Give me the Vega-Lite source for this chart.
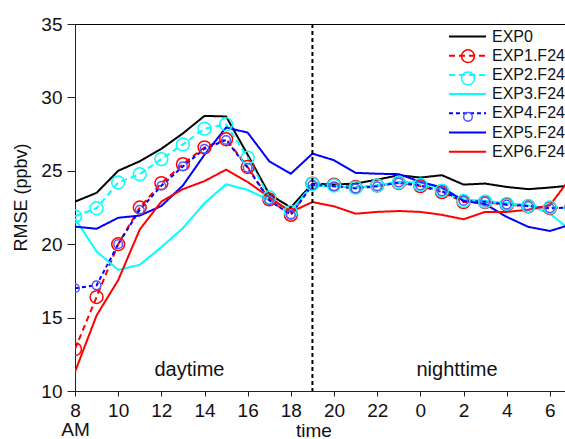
{
  "$schema": "https://vega.github.io/schema/vega-lite/v6.json",
  "autosize": {"type": "none"},
  "padding": {"left": 75, "top": 24, "right": 0, "bottom": 48},
  "width": 490,
  "height": 367,
  "background": "white",
  "config": {
    "font": "Liberation Sans",
    "view": {"stroke": "black", "strokeWidth": 1},
    "axis": {"grid": false, "domainColor": "#222", "tickColor": "#222", "labelColor": "#111", "titleColor": "#111", "titleFontWeight": "normal", "labelFont": "Liberation Sans", "titleFont": "Liberation Sans"}
  },
  "datasets": {
    "rmse": [
      {"s":"EXP0","h":8,"v":22.9},{"s":"EXP0","h":9,"v":23.5},{"s":"EXP0","h":10,"v":25.0},{"s":"EXP0","h":11,"v":25.65},{"s":"EXP0","h":12,"v":26.5},{"s":"EXP0","h":13,"v":27.55},{"s":"EXP0","h":14,"v":28.74},{"s":"EXP0","h":15,"v":28.7},{"s":"EXP0","h":16,"v":26.1},{"s":"EXP0","h":17,"v":23.4},{"s":"EXP0","h":18,"v":22.5},{"s":"EXP0","h":19,"v":24.13},{"s":"EXP0","h":20,"v":24.06},{"s":"EXP0","h":21,"v":24.13},{"s":"EXP0","h":22,"v":24.4},{"s":"EXP0","h":23,"v":24.7},{"s":"EXP0","h":24,"v":24.54},{"s":"EXP0","h":25,"v":24.7},{"s":"EXP0","h":26,"v":24.06},{"s":"EXP0","h":27,"v":24.13},{"s":"EXP0","h":28,"v":23.9},{"s":"EXP0","h":29,"v":23.75},{"s":"EXP0","h":30,"v":23.86},{"s":"EXP0","h":31,"v":24.0},
      {"s":"EXP1.F24","h":8,"v":12.85},{"s":"EXP1.F24","h":9,"v":16.4},{"s":"EXP1.F24","h":10,"v":20.0},{"s":"EXP1.F24","h":11,"v":22.5},{"s":"EXP1.F24","h":12,"v":24.16},{"s":"EXP1.F24","h":13,"v":25.45},{"s":"EXP1.F24","h":14,"v":26.6},{"s":"EXP1.F24","h":15,"v":27.15},{"s":"EXP1.F24","h":16,"v":25.26},{"s":"EXP1.F24","h":17,"v":23.05},{"s":"EXP1.F24","h":18,"v":22.0},{"s":"EXP1.F24","h":19,"v":24.13},{"s":"EXP1.F24","h":20,"v":24.06},{"s":"EXP1.F24","h":21,"v":23.9},{"s":"EXP1.F24","h":22,"v":24.0},{"s":"EXP1.F24","h":23,"v":24.17},{"s":"EXP1.F24","h":24,"v":23.96},{"s":"EXP1.F24","h":25,"v":23.55},{"s":"EXP1.F24","h":26,"v":22.87},{"s":"EXP1.F24","h":27,"v":22.87},{"s":"EXP1.F24","h":28,"v":22.69},{"s":"EXP1.F24","h":29,"v":22.58},{"s":"EXP1.F24","h":30,"v":22.46},{"s":"EXP1.F24","h":31,"v":22.5},
      {"s":"EXP2.F24","h":8,"v":21.9},{"s":"EXP2.F24","h":9,"v":22.45},{"s":"EXP2.F24","h":10,"v":24.2},{"s":"EXP2.F24","h":11,"v":24.77},{"s":"EXP2.F24","h":12,"v":25.8},{"s":"EXP2.F24","h":13,"v":26.8},{"s":"EXP2.F24","h":14,"v":27.87},{"s":"EXP2.F24","h":15,"v":28.17},{"s":"EXP2.F24","h":16,"v":25.9},{"s":"EXP2.F24","h":17,"v":23.2},{"s":"EXP2.F24","h":18,"v":22.2},{"s":"EXP2.F24","h":19,"v":24.1},{"s":"EXP2.F24","h":20,"v":24.0},{"s":"EXP2.F24","h":21,"v":23.85},{"s":"EXP2.F24","h":22,"v":24.0},{"s":"EXP2.F24","h":23,"v":24.2},{"s":"EXP2.F24","h":24,"v":24.05},{"s":"EXP2.F24","h":25,"v":23.65},{"s":"EXP2.F24","h":26,"v":22.95},{"s":"EXP2.F24","h":27,"v":22.9},{"s":"EXP2.F24","h":28,"v":22.75},{"s":"EXP2.F24","h":29,"v":22.6},{"s":"EXP2.F24","h":30,"v":22.5},{"s":"EXP2.F24","h":31,"v":22.45},
      {"s":"EXP3.F24","h":8,"v":21.74},{"s":"EXP3.F24","h":9,"v":19.5},{"s":"EXP3.F24","h":10,"v":18.25},{"s":"EXP3.F24","h":11,"v":18.6},{"s":"EXP3.F24","h":12,"v":19.8},{"s":"EXP3.F24","h":13,"v":21.1},{"s":"EXP3.F24","h":14,"v":22.8},{"s":"EXP3.F24","h":15,"v":24.08},{"s":"EXP3.F24","h":16,"v":23.7},{"s":"EXP3.F24","h":17,"v":23.0},{"s":"EXP3.F24","h":18,"v":22.3},{"s":"EXP3.F24","h":19,"v":24.0},{"s":"EXP3.F24","h":20,"v":23.95},{"s":"EXP3.F24","h":21,"v":23.85},{"s":"EXP3.F24","h":22,"v":24.0},{"s":"EXP3.F24","h":23,"v":24.25},{"s":"EXP3.F24","h":24,"v":24.2},{"s":"EXP3.F24","h":25,"v":23.8},{"s":"EXP3.F24","h":26,"v":23.05},{"s":"EXP3.F24","h":27,"v":22.95},{"s":"EXP3.F24","h":28,"v":22.8},{"s":"EXP3.F24","h":29,"v":22.65},{"s":"EXP3.F24","h":30,"v":22.08},{"s":"EXP3.F24","h":31,"v":20.9},
      {"s":"EXP4.F24","h":8,"v":17.0},{"s":"EXP4.F24","h":9,"v":17.2},{"s":"EXP4.F24","h":10,"v":20.0},{"s":"EXP4.F24","h":11,"v":22.34},{"s":"EXP4.F24","h":12,"v":23.98},{"s":"EXP4.F24","h":13,"v":25.3},{"s":"EXP4.F24","h":14,"v":26.5},{"s":"EXP4.F24","h":15,"v":27.1},{"s":"EXP4.F24","h":16,"v":25.2},{"s":"EXP4.F24","h":17,"v":23.0},{"s":"EXP4.F24","h":18,"v":22.0},{"s":"EXP4.F24","h":19,"v":24.05},{"s":"EXP4.F24","h":20,"v":23.95},{"s":"EXP4.F24","h":21,"v":23.8},{"s":"EXP4.F24","h":22,"v":23.95},{"s":"EXP4.F24","h":23,"v":24.2},{"s":"EXP4.F24","h":24,"v":24.0},{"s":"EXP4.F24","h":25,"v":23.6},{"s":"EXP4.F24","h":26,"v":22.95},{"s":"EXP4.F24","h":27,"v":22.9},{"s":"EXP4.F24","h":28,"v":22.7},{"s":"EXP4.F24","h":29,"v":22.6},{"s":"EXP4.F24","h":30,"v":22.45},{"s":"EXP4.F24","h":31,"v":22.5},
      {"s":"EXP5.F24","h":8,"v":21.2},{"s":"EXP5.F24","h":9,"v":21.05},{"s":"EXP5.F24","h":10,"v":21.8},{"s":"EXP5.F24","h":11,"v":21.95},{"s":"EXP5.F24","h":12,"v":22.6},{"s":"EXP5.F24","h":13,"v":24.0},{"s":"EXP5.F24","h":14,"v":26.1},{"s":"EXP5.F24","h":15,"v":27.95},{"s":"EXP5.F24","h":16,"v":27.6},{"s":"EXP5.F24","h":17,"v":25.65},{"s":"EXP5.F24","h":18,"v":24.8},{"s":"EXP5.F24","h":19,"v":26.17},{"s":"EXP5.F24","h":20,"v":25.72},{"s":"EXP5.F24","h":21,"v":24.86},{"s":"EXP5.F24","h":22,"v":24.8},{"s":"EXP5.F24","h":23,"v":24.77},{"s":"EXP5.F24","h":24,"v":24.25},{"s":"EXP5.F24","h":25,"v":23.86},{"s":"EXP5.F24","h":26,"v":22.95},{"s":"EXP5.F24","h":27,"v":22.73},{"s":"EXP5.F24","h":28,"v":21.86},{"s":"EXP5.F24","h":29,"v":21.18},{"s":"EXP5.F24","h":30,"v":20.9},{"s":"EXP5.F24","h":31,"v":21.35},
      {"s":"EXP6.F24","h":8,"v":11.3},{"s":"EXP6.F24","h":9,"v":15.15},{"s":"EXP6.F24","h":10,"v":17.55},{"s":"EXP6.F24","h":11,"v":21.0},{"s":"EXP6.F24","h":12,"v":22.9},{"s":"EXP6.F24","h":13,"v":23.75},{"s":"EXP6.F24","h":14,"v":24.3},{"s":"EXP6.F24","h":15,"v":25.08},{"s":"EXP6.F24","h":16,"v":24.24},{"s":"EXP6.F24","h":17,"v":23.2},{"s":"EXP6.F24","h":18,"v":22.2},{"s":"EXP6.F24","h":19,"v":22.87},{"s":"EXP6.F24","h":20,"v":22.58},{"s":"EXP6.F24","h":21,"v":22.08},{"s":"EXP6.F24","h":22,"v":22.2},{"s":"EXP6.F24","h":23,"v":22.26},{"s":"EXP6.F24","h":24,"v":22.2},{"s":"EXP6.F24","h":25,"v":22.0},{"s":"EXP6.F24","h":26,"v":21.7},{"s":"EXP6.F24","h":27,"v":22.2},{"s":"EXP6.F24","h":28,"v":22.2},{"s":"EXP6.F24","h":29,"v":22.35},{"s":"EXP6.F24","h":30,"v":22.65},{"s":"EXP6.F24","h":31,"v":24.6}
    ]
  },
  "layer": [
    {
      "data": {"name": "rmse"},
      "mark": {"type": "line", "strokeWidth": 2, "clip": true},
      "encoding": {
        "x": {"field": "h", "type": "quantitative", "scale": {"domain": [8, 30.7], "nice": false, "zero": false},
          "axis": {"title": "time", "values": [8,9,10,11,12,13,14,15,16,17,18,19,20,21,22,23,24,25,26,27,28,29,30],
            "labelExpr": "datum.value == 8 ? ['8','AM'] : (datum.value % 2 == 0 ? '' + (datum.value % 24) : '')",
            "labelOverlap": false, "labelFlush": false, "labelFontSize": 19, "labelLineHeight": 19, "labelPadding": 5,
            "tickSize": {"condition": {"test": "datum.value % 2 == 1", "value": 3}, "value": 5},
            "titleFontSize": 19, "titleX": 238.5, "titleY": 45, "titleBaseline": "alphabetic", "titleAlign": "center"}},
        "y": {"field": "v", "type": "quantitative", "scale": {"domain": [10, 35], "nice": false, "zero": false},
          "axis": {"title": "RMSE (ppbv)", "values": [10,12.5,15,17.5,20,22.5,25,27.5,30,32.5,35],
            "labelExpr": "datum.value % 5 == 0 ? datum.label : ''",
            "labelFontSize": 19, "labelPadding": 5,
            "tickSize": {"condition": {"test": "datum.value % 5 != 0", "value": 4}, "value": 8},
            "titleFontSize": 18, "titleX": -45, "titleY": 173}},
        "color": {"field": "s", "type": "nominal",
          "scale": {"domain": ["EXP0","EXP1.F24","EXP2.F24","EXP3.F24","EXP4.F24","EXP5.F24","EXP6.F24"],
            "range": ["#000000","#FF0000","#00FFFF","#00FFFF","#0000FF","#0000FF","#FF0000"]},
          "legend": {"title": null, "orient": "none", "legendX": 384, "legendY": 4, "symbolType": "M-2.5,0H2.5", "symbolSize": 220, "symbolStrokeWidth": 2, "labelFontSize": 16, "labelColor": "#111", "rowPadding": 2.2, "padding": 0, "labelOffset": 16}},
        "strokeDash": {"field": "s", "type": "nominal",
          "scale": {"domain": ["EXP0","EXP1.F24","EXP2.F24","EXP3.F24","EXP4.F24","EXP5.F24","EXP6.F24"],
            "range": [[1,0],[6,4],[6,4],[1,0],[4,3],[1,0],[1,0]]},
          "legend": {"title": null, "orient": "none", "legendX": 384, "legendY": 4, "symbolType": "M-2.5,0H2.5", "symbolSize": 220, "symbolStrokeWidth": 2, "labelFontSize": 16, "labelColor": "#111", "rowPadding": 2.2, "padding": 0, "labelOffset": 16}}
      }
    },
    {
      "data": {"name": "rmse"},
      "transform": [{"filter": {"field": "s", "oneOf": ["EXP1.F24","EXP2.F24","EXP4.F24"]}}],
      "mark": {"type": "point", "filled": false, "strokeWidth": 1.5, "clip": true, "opacity": 1},
      "encoding": {
        "x": {"field": "h", "type": "quantitative"},
        "y": {"field": "v", "type": "quantitative"},
        "stroke": {"field": "s", "type": "nominal",
          "scale": {"domain": ["EXP0","EXP1.F24","EXP2.F24","EXP3.F24","EXP4.F24","EXP5.F24","EXP6.F24","none"],
            "range": ["#000000","#FF0000","#00FFFF","#00FFFF","#5555FF","#0000FF","#FF0000","#FFFFFF"]},
          "legend": {"title": null, "values": ["EXP0","EXP1.F24","EXP2.F24","EXP3.F24","EXP4.F24","EXP5.F24","EXP6.F24"], "orient": "none", "legendX": 385, "legendY": 4, "labelFontSize": 16, "labelExpr": "' '", "rowPadding": 2.2, "padding": 0, "labelOffset": 5, "symbolStrokeWidth": 1.5, "symbolFillColor": "transparent"}},
        "size": {"field": "s", "type": "nominal",
          "scale": {"type": "ordinal", "domain": ["EXP0","EXP1.F24","EXP2.F24","EXP3.F24","EXP4.F24","EXP5.F24","EXP6.F24","none"],
            "range": [0,165,165,0,75,0,0,0]},
          "legend": {"title": null, "values": ["EXP0","EXP1.F24","EXP2.F24","EXP3.F24","EXP4.F24","EXP5.F24","EXP6.F24"], "orient": "none", "legendX": 385, "legendY": 4, "labelFontSize": 16, "labelExpr": "' '", "rowPadding": 2.2, "padding": 0, "labelOffset": 5, "symbolStrokeWidth": 1.5, "symbolFillColor": "transparent"}}
      }
    },
    {
      "data": {"values": [{"h": 19}]},
      "mark": {"type": "rule", "color": "black", "strokeWidth": 2, "strokeDash": [4, 3]},
      "encoding": {"x": {"field": "h", "type": "quantitative"}}
    },
    {
      "data": {"values": [{"h": 13.3, "v": 11.4, "label": "daytime"}, {"h": 25.7, "v": 11.4, "label": "nighttime"}]},
      "mark": {"type": "text", "fontSize": 20, "color": "#111", "font": "Liberation Sans"},
      "encoding": {
        "x": {"field": "h", "type": "quantitative"},
        "y": {"field": "v", "type": "quantitative"},
        "text": {"field": "label"}
      }
    }
  ]
}
